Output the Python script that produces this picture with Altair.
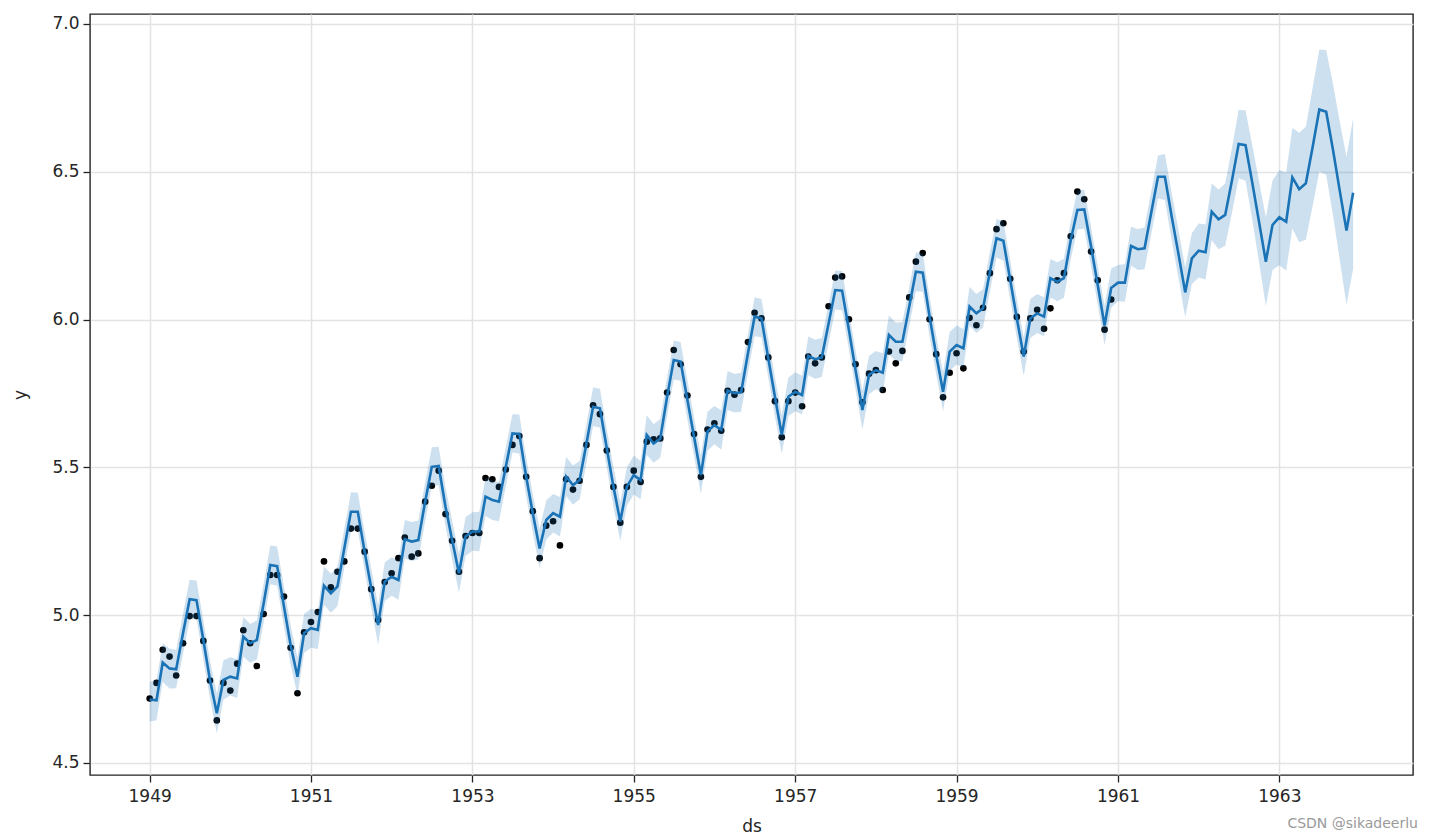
import altair as alt
import pandas as pd

# ---- data ----
observed_y = [
    4.718, 4.771, 4.883, 4.860, 4.796, 4.905, 4.997, 4.997, 4.913, 4.779, 4.644, 4.771,
    4.745, 4.836, 4.949, 4.905, 4.828, 5.004, 5.136, 5.136, 5.063, 4.890, 4.736, 4.942,
    4.977, 5.011, 5.182, 5.094, 5.147, 5.182, 5.293, 5.293, 5.215, 5.088, 4.984, 5.112,
    5.142, 5.193, 5.263, 5.198, 5.209, 5.384, 5.438, 5.489, 5.342, 5.252, 5.147, 5.268,
    5.278, 5.278, 5.464, 5.460, 5.434, 5.493, 5.576, 5.606, 5.468, 5.352, 5.193, 5.303,
    5.318, 5.236, 5.460, 5.425, 5.455, 5.576, 5.710, 5.680, 5.557, 5.434, 5.313, 5.434,
    5.489, 5.451, 5.587, 5.595, 5.598, 5.753, 5.897, 5.849, 5.743, 5.613, 5.468, 5.628,
    5.649, 5.624, 5.759, 5.746, 5.762, 5.924, 6.023, 6.004, 5.872, 5.724, 5.602, 5.724,
    5.753, 5.707, 5.875, 5.852, 5.872, 6.045, 6.142, 6.146, 6.001, 5.849, 5.720, 5.817,
    5.829, 5.762, 5.892, 5.852, 5.894, 6.075, 6.196, 6.225, 6.001, 5.883, 5.737, 5.820,
    5.886, 5.835, 6.006, 5.981, 6.040, 6.157, 6.306, 6.326, 6.138, 6.009, 5.892, 6.004,
    6.033, 5.969, 6.038, 6.133, 6.157, 6.282, 6.433, 6.407, 6.230, 6.133, 5.966, 6.068,
]

yhat = [
    4.715, 4.712, 4.840, 4.820, 4.817, 4.939, 5.054, 5.051, 4.916, 4.781, 4.668, 4.781,
    4.792, 4.786, 4.927, 4.905, 4.916, 5.040, 5.170, 5.166, 5.029, 4.899, 4.792, 4.939,
    4.956, 4.950, 5.100, 5.074, 5.097, 5.226, 5.350, 5.350, 5.215, 5.091, 4.967, 5.113,
    5.130, 5.119, 5.257, 5.249, 5.254, 5.384, 5.502, 5.505, 5.367, 5.254, 5.142, 5.266,
    5.283, 5.283, 5.401, 5.390, 5.384, 5.502, 5.615, 5.613, 5.469, 5.345, 5.226, 5.322,
    5.345, 5.333, 5.469, 5.440, 5.457, 5.581, 5.705, 5.700, 5.565, 5.435, 5.317, 5.435,
    5.474, 5.457, 5.610, 5.581, 5.598, 5.739, 5.863, 5.858, 5.728, 5.604, 5.474, 5.622,
    5.643, 5.627, 5.760, 5.751, 5.754, 5.886, 6.010, 6.004, 5.869, 5.739, 5.610, 5.739,
    5.756, 5.745, 5.877, 5.866, 5.872, 5.987, 6.100, 6.098, 5.965, 5.829, 5.694, 5.813,
    5.829, 5.820, 5.948, 5.925, 5.925, 6.044, 6.162, 6.159, 6.010, 5.880, 5.756, 5.892,
    5.914, 5.903, 6.044, 6.021, 6.038, 6.162, 6.275, 6.267, 6.134, 6.004, 5.875, 6.004,
    6.021, 6.010, 6.140, 6.128, 6.140, 6.269, 6.371, 6.373, 6.247, 6.117, 5.980, 6.107,
    6.125, 6.125, 6.249, 6.238, 6.241, 6.365, 6.483, 6.483, 6.348, 6.224, 6.092, 6.207,
    6.233, 6.228, 6.365, 6.339, 6.354, 6.472, 6.594, 6.590, 6.461, 6.331, 6.196, 6.320,
    6.346, 6.331, 6.481, 6.441, 6.461, 6.585, 6.711, 6.703, 6.574, 6.438, 6.301, 6.429,
]

yhat_lower = [
    4.640, 4.645, 4.775, 4.752, 4.753, 4.870, 4.985, 4.988, 4.850, 4.718, 4.600, 4.715,
    4.728, 4.720, 4.860, 4.838, 4.850, 4.975, 5.105, 5.100, 4.962, 4.832, 4.728, 4.872,
    4.890, 4.886, 5.035, 5.008, 5.030, 5.160, 5.284, 5.288, 5.150, 5.025, 4.900, 5.048,
    5.066, 5.052, 5.192, 5.183, 5.188, 5.318, 5.438, 5.440, 5.300, 5.188, 5.076, 5.200,
    5.218, 5.216, 5.336, 5.322, 5.318, 5.436, 5.550, 5.547, 5.403, 5.280, 5.160, 5.256,
    5.280, 5.266, 5.403, 5.374, 5.392, 5.515, 5.640, 5.634, 5.500, 5.368, 5.252, 5.370,
    5.408, 5.392, 5.543, 5.516, 5.533, 5.673, 5.797, 5.793, 5.662, 5.538, 5.410, 5.556,
    5.578, 5.560, 5.694, 5.686, 5.688, 5.820, 5.944, 5.940, 5.803, 5.673, 5.545, 5.674,
    5.690, 5.680, 5.812, 5.800, 5.806, 5.921, 6.034, 6.032, 5.900, 5.763, 5.628, 5.748,
    5.764, 5.753, 5.882, 5.860, 5.859, 5.978, 6.096, 6.094, 5.944, 5.815, 5.690, 5.826,
    5.848, 5.838, 5.978, 5.955, 5.973, 6.096, 6.210, 6.200, 6.068, 5.938, 5.810, 5.938,
    5.955, 5.944, 6.075, 6.062, 6.074, 6.204, 6.305, 6.307, 6.180, 6.052, 5.914, 6.040,
    6.062, 6.060, 6.182, 6.168, 6.170, 6.292, 6.410, 6.405, 6.268, 6.142, 6.008, 6.120,
    6.142, 6.136, 6.268, 6.238, 6.250, 6.362, 6.478, 6.470, 6.336, 6.195, 6.046, 6.168,
    6.184, 6.165, 6.308, 6.262, 6.270, 6.385, 6.500, 6.490, 6.352, 6.205, 6.050, 6.172,
]

yhat_upper = [
    4.775, 4.780, 4.905, 4.887, 4.882, 5.006, 5.120, 5.117, 4.982, 4.846, 4.735, 4.848,
    4.858, 4.852, 4.994, 4.970, 4.982, 5.106, 5.236, 5.232, 5.095, 4.965, 4.858, 5.005,
    5.022, 5.016, 5.166, 5.140, 5.164, 5.292, 5.416, 5.414, 5.282, 5.156, 5.034, 5.178,
    5.196, 5.186, 5.322, 5.315, 5.320, 5.450, 5.568, 5.570, 5.433, 5.320, 5.208, 5.332,
    5.348, 5.350, 5.466, 5.456, 5.450, 5.568, 5.680, 5.679, 5.535, 5.410, 5.292, 5.388,
    5.410, 5.400, 5.535, 5.506, 5.522, 5.647, 5.770, 5.766, 5.630, 5.502, 5.382, 5.500,
    5.540, 5.522, 5.676, 5.646, 5.664, 5.805, 5.929, 5.924, 5.794, 5.670, 5.540, 5.688,
    5.708, 5.693, 5.826, 5.816, 5.820, 5.952, 6.076, 6.070, 5.935, 5.805, 5.676, 5.804,
    5.822, 5.810, 5.943, 5.932, 5.938, 6.053, 6.166, 6.164, 6.030, 5.895, 5.760, 5.878,
    5.894, 5.886, 6.014, 5.990, 5.991, 6.110, 6.228, 6.224, 6.076, 5.946, 5.822, 5.958,
    5.980, 5.968, 6.110, 6.087, 6.103, 6.228, 6.340, 6.333, 6.200, 6.070, 5.940, 6.070,
    6.087, 6.076, 6.205, 6.194, 6.206, 6.334, 6.437, 6.439, 6.313, 6.182, 6.046, 6.173,
    6.185, 6.188, 6.315, 6.306, 6.312, 6.437, 6.555, 6.560, 6.428, 6.306, 6.176, 6.292,
    6.325, 6.322, 6.460, 6.440, 6.460, 6.582, 6.709, 6.708, 6.588, 6.468, 6.346, 6.470,
    6.506, 6.498, 6.648, 6.632, 6.652, 6.785, 6.914, 6.912, 6.796, 6.672, 6.550, 6.682,
]

n_obs = len(observed_y)
dates = pd.date_range("1949-01-01", periods=len(yhat), freq="MS")

fc = pd.DataFrame({
    "ds": dates.strftime("%Y-%m-%d"),
    "yhat": yhat,
    "yhat_lower": yhat_lower,
    "yhat_upper": yhat_upper,
})
obs = pd.DataFrame({"ds": dates[:n_obs].strftime("%Y-%m-%d"), "y": observed_y})

year_ticks = [alt.DateTime(year=yr, month=1, date=1) for yr in range(1949, 1964, 2)]
FONT = "DejaVu Sans"
TXT = "#262626"
BLUE = "#1a74b6"

x_scale = alt.Scale(domain=[alt.DateTime(year=1948, month=4, date=6),
                            alt.DateTime(year=1964, month=8, date=28)], nice=False)
y_scale = alt.Scale(domain=[4.4594, 7.0338], nice=False, zero=False)

x_axis = alt.Axis(values=year_ticks, format="%Y", title="ds", labelFont=FONT, titleFont=FONT,
                  labelFontSize=17, titleFontSize=17, titleFontWeight="normal",
                  labelColor=TXT, titleColor=TXT, tickColor="#222", tickSize=7, tickWidth=1.3,
                  domain=False, grid=True, gridColor="#e3e3e3", gridWidth=1.5,
                  labelPadding=6, titlePadding=14)
y_axis = alt.Axis(values=[4.5, 5.0, 5.5, 6.0, 6.5, 7.0], format=".1f", title="y",
                  labelFont=FONT, titleFont=FONT, labelFontSize=17, titleFontSize=17,
                  titleFontWeight="normal", labelColor=TXT, titleColor=TXT,
                  tickColor="#222", tickSize=7, tickWidth=1.3, domain=False, grid=True,
                  gridColor="#e3e3e3", gridWidth=1.5, labelPadding=4, titlePadding=22)

pts = alt.Chart(obs).mark_circle(color="black", size=44, opacity=1).encode(
    x=alt.X("ds:T", scale=x_scale, axis=x_axis),
    y=alt.Y("y:Q", scale=y_scale, axis=y_axis),
)
line = alt.Chart(fc).mark_line(color=BLUE, strokeWidth=2.6).encode(
    x=alt.X("ds:T", scale=x_scale),
    y=alt.Y("yhat:Q", scale=y_scale),
)
band = alt.Chart(fc).mark_area(color=BLUE, opacity=0.22).encode(
    x=alt.X("ds:T", scale=x_scale),
    y=alt.Y("yhat_lower:Q", scale=y_scale),
    y2="yhat_upper:Q",
)
mark_df = pd.DataFrame({"t": ["CSDN @sikadeerlu"]})
watermark = alt.Chart(mark_df).mark_text(
    align="right", baseline="middle", font=FONT, fontSize=14, color="#9a9a9a"
).encode(text="t:N", x=alt.value(1328), y=alt.value(810))

chart = alt.layer(pts, line, band, watermark).properties(
    width=1323, height=761,
    autosize=alt.AutoSizeParams(type="none"),
    padding={"left": 82, "top": 6, "right": 10, "bottom": 60},
).configure_view(stroke="#222", strokeWidth=1.4)

chart.save("out.html", embed_options={"renderer": "svg", "actions": False})
